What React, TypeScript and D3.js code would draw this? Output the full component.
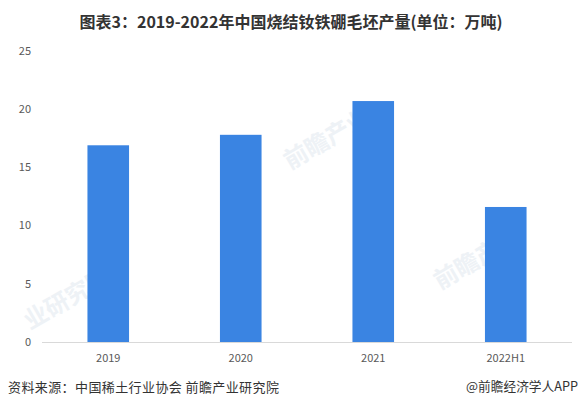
import React from "react";
import * as d3 from "d3";

const categories = ["2019", "2020", "2021", "2022H1"];
const values = [16.9, 17.8, 20.7, 11.6];
const yTicks = [0, 5, 10, 15, 20, 25];
const title = "图表3：2019-2022年中国烧结钕铁硼毛坯产量(单位：万吨)";
const source = "资料来源：中国稀土行业协会 前瞻产业研究院";
const credit = "@前瞻经济学人APP";

const W = 582;
const H = 415;

export default function App() {
  const x = d3.scaleBand<string>().domain(categories).range([42, 572]).paddingInner(0.686).paddingOuter(0.343);
  const y = d3.scaleLinear().domain([0, 25]).range([342, 51]);
  const font = "'Noto Sans CJK SC', 'Microsoft YaHei', sans-serif";
  return (
    <svg width={W} height={H} style={{ position: "absolute", left: 0, top: 0, background: "#fff" }} fontFamily={font}>
      <rect x={0} y={0} width={W} height={H} fill="#fff" />
      {/* faint watermarks */}
      <g fill="#eef2f6" fontSize={24} fontWeight={700}>
        <text transform="translate(290,170) rotate(-30)">前瞻产业</text>
        <text transform="translate(30,330) rotate(-30)">业研究院</text>
        <text transform="translate(440,290) rotate(-30)">前瞻产业</text>
      </g>
      <text x={291} y={28} textAnchor="middle" fontSize={16} fontWeight={700} fill="#333">{title}</text>
      {yTicks.map((t) => (
        <text key={t} x={31} y={y(t)} dy="0.35em" textAnchor="end" fontSize={11} fill="#595959">{t}</text>
      ))}
      {categories.map((c, i) => (
        <rect key={c} x={x(c)} y={y(values[i])} width={x.bandwidth()} height={y(0) - y(values[i])} fill="#3a84e2" />
      ))}
      <line x1={42} x2={572} y1={342.5} y2={342.5} stroke="#d9d9d9" strokeWidth={1} />
      {categories.map((c) => (
        <text key={c} x={(x(c) as number) + x.bandwidth() / 2} y={358} dy="0.35em" textAnchor="middle" fontSize={11} fill="#595959">{c}</text>
      ))}
      <text x={8} y={387} dy="0.35em" fontSize={13} letterSpacing={0.4} fill="#333">{source}</text>
      <text x={578} y={387} dy="0.35em" textAnchor="end" fontSize={12.7} fill="#333">{credit}</text>
    </svg>
  );
}
